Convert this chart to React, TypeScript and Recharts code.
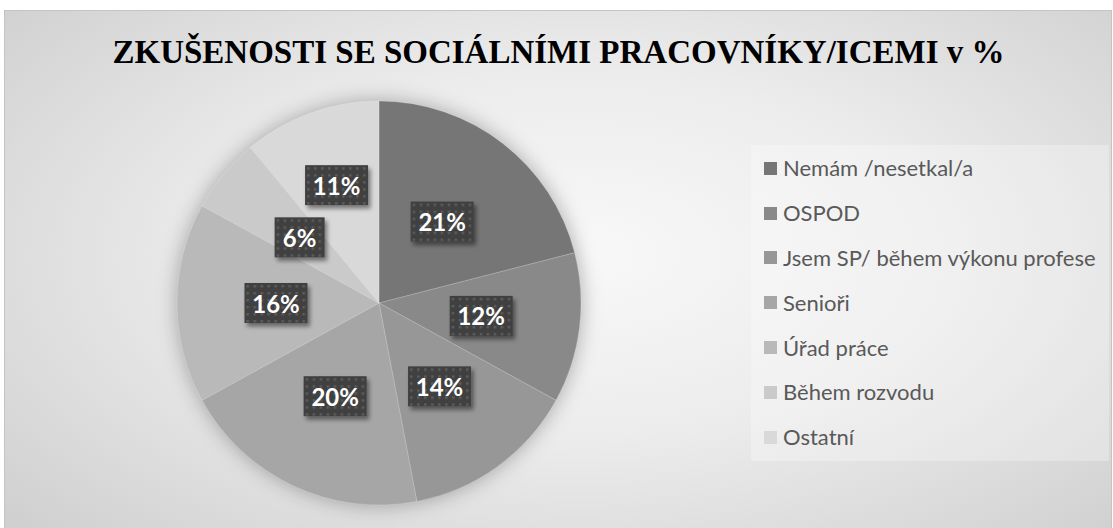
import React from 'react';
import { PieChart, Pie, Cell, Legend } from 'recharts';

const titleText = 'ZKUŠENOSTI SE SOCIÁLNÍMI PRACOVNÍKY/ICEMI v %';
const categories = [
  'Nemám /nesetkal/a',
  'OSPOD',
  'Jsem SP/ během výkonu profese',
  'Senioři',
  'Úřad práce',
  'Během rozvodu',
  'Ostatní',
];
const values = [21, 12, 14, 20, 16, 6, 11];
const colors = ['#767676', '#898989', '#979797', '#a6a6a6', '#b9b9b9', '#cacaca', '#d9d9d9'];

const data = categories.map((name, i) => ({ name, value: values[i] }));
const RAD = Math.PI / 180;

const renderLabel = (props: any) => {
  const { cx, cy, midAngle, outerRadius, value, index } = props;
  const r = outerRadius * (index === categories.length - 1 ? 0.62 : 0.51);
  const x = cx + r * Math.cos(-midAngle * RAD);
  const y = cy + r * Math.sin(-midAngle * RAD);
  const text = `${value}%`;
  const w = text.length <= 2 ? 50 : 63;
  const h = 40;
  const pid = `dots-${index}`;
  const fid = `shadow-${index}`;
  return (
    <g>
      <defs>
        <pattern id={pid} x={x - w / 2} y={y - h / 2} width={7} height={7} patternUnits="userSpaceOnUse">
          <rect x={2} y={2} width={2.5} height={2.5} fill="#5c5c5c" />
        </pattern>
        <filter id={fid} x="-30%" y="-30%" width="160%" height="160%">
          <feDropShadow dx={2.5} dy={3.5} stdDeviation={2} floodColor="#000" floodOpacity={0.45} />
        </filter>
      </defs>
      <rect x={x - w / 2} y={y - h / 2} width={w} height={h} fill="#404040" filter={`url(#${fid})`} />
      <rect x={x - w / 2} y={y - h / 2} width={w} height={h} fill={`url(#${pid})`} />
      <text
        x={x}
        y={y}
        textAnchor="middle"
        dominantBaseline="central"
        fill="#ffffff"
        fontFamily="Lato, 'Open Sans', sans-serif"
        fontWeight={700}
        fontSize={24}
      >
        {text}
      </text>
    </g>
  );
};

const renderLegend = () => {
  return (
    <div
      style={{
        width: 358,
        height: 316,
        boxSizing: 'border-box',
        background: 'rgba(255,255,255,0.28)',
        paddingTop: 1,
        paddingLeft: 13,
      }}
    >
      {categories.map((name, i) => (
        <div key={name} style={{ display: 'flex', alignItems: 'center', height: 44.8 }}>
          <span style={{ display: 'inline-block', width: 13, height: 13, background: colors[i], marginRight: 6 }} />
          <span style={{ fontFamily: "Lato, 'Open Sans', sans-serif", fontSize: 22, color: '#595959', lineHeight: '24px' }}>
            {name}
          </span>
        </div>
      ))}
    </div>
  );
};

export default function App() {
  return (
    <div style={{ position: 'absolute', left: 0, top: 0, width: 1113, height: 528, overflow: 'hidden', background: '#ffffff' }}>
      <style>{`.recharts-pie{filter:drop-shadow(0 0 10px rgba(0,0,0,0.3));}`}</style>
      <div
        style={{
          position: 'absolute',
          left: 4,
          top: 10,
          width: 1106,
          height: 540,
          border: '1px solid #c4c4c4',
          background: 'radial-gradient(ellipse 70% 75% at 52% 45%, #f8f8f8 0%, #ececec 45%, #cfcfcf 100%)',
        }}
      />
      <div
        style={{
          position: 'absolute',
          left: 0,
          top: 36,
          width: 1117,
          textAlign: 'center',
          fontFamily: "'Liberation Serif', 'Times New Roman', serif",
          fontWeight: 700,
          fontSize: 33,
          lineHeight: '32px',
          color: '#000',
          whiteSpace: 'nowrap',
        }}
      >
        {titleText}
      </div>
      <div style={{ position: 'absolute', left: 0, top: 0 }}>
        <PieChart width={1113} height={528} margin={{ top: 0, right: 0, bottom: 0, left: 0 }}>
          <Pie
            data={data}
            dataKey="value"
            nameKey="name"
            cx={379}
            cy={303}
            outerRadius={202}
            startAngle={90}
            endAngle={-270}
            stroke="rgba(255,255,255,0.18)"
            strokeWidth={1}
            label={renderLabel}
            labelLine={false}
            isAnimationActive={false}
          >
            {data.map((d, i) => (
              <Cell key={d.name} fill={colors[i]} />
            ))}
          </Pie>
          <Legend
            layout="vertical"
            align="right"
            verticalAlign="middle"
            content={renderLegend}
            wrapperStyle={{ position: 'absolute', left: 751, top: 145, width: 358, height: 316, right: 'auto', bottom: 'auto' }}
          />
        </PieChart>
      </div>
    </div>
  );
}
